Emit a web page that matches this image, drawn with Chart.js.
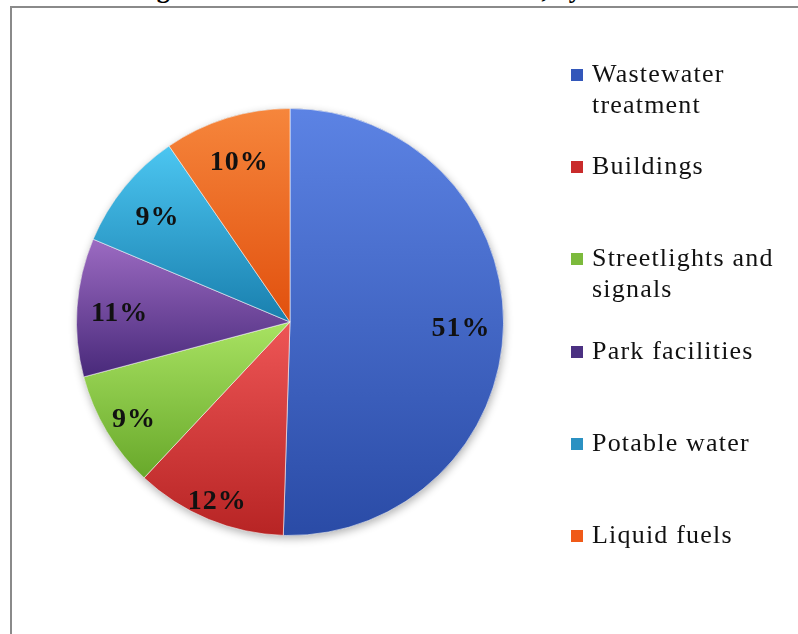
<!DOCTYPE html>
<html>
<head>
<meta charset="utf-8">
<script src="https://cdn.jsdelivr.net/npm/chart.js@4.4.1/dist/chart.umd.min.js"></script>
<style>
    html, body { margin: 0; padding: 0; background: #fff; overflow: hidden; }
    body { width: 798px; height: 634px; position: relative; }
    #frame { position: absolute; left: 10px; top: 6px; width: 1000px; height: 1000px; border: 2px solid #8a8a8a; }
    #title { position: absolute; left: 0; top: -25px; width: 798px; text-align: center; font: bold 26px "Liberation Serif", serif; line-height: 30px; color: #000; }
    #chart { position: absolute; left: 0; top: 0; }
    .item { position: absolute; left: 571px; width: 220px; }
    .sw { position: absolute; left: 0; top: 11px; width: 12px; height: 12px; }
    .txt { display: block; margin-left: 21px; font: 26px "Liberation Serif", serif; line-height: 31px; letter-spacing: 1.2px; color: #111; }
</style>
</head>
<body>
<div id="frame"></div>
<div id="title">Figure 1: Greenhouse Gas Emissions, by Source</div>
<canvas id="chart" width="798" height="634"></canvas>
<div id="legend"></div>
<script>
// Data (share of emissions, %)
const categories = ["Wastewater treatment", "Buildings", "Streetlights and signals", "Park facilities", "Potable water", "Liquid fuels"];
const shares = [50.6, 11.5, 8.9, 10.5, 9.1, 9.6];

// Slice colours (top / bottom of the gradient) and legend swatches
const topColors = ["#5c83e4", "#ee5656", "#a8e262", "#9c6bc2", "#4cc6f1", "#f6863c"];
const bottomColors = ["#2a4ba6", "#b72424", "#68a82a", "#48297a", "#197fae", "#e1500e"];
const swatchColors = ["#3357ba", "#c92b2b", "#7cba3c", "#4b3182", "#2b91c2", "#f05a18"];

// Vertical gradient over the bounding box of one slice
function sliceGradient(chart, i) {
    const area = chart.chartArea;
    if (!area) return topColors[i];
    const cx = (area.left + area.right) / 2;
    const cy = (area.top + area.bottom) / 2;
    const r = Math.min(area.right - area.left, area.bottom - area.top) / 2;
    const total = shares.reduce((a, b) => a + b, 0);
    const before = shares.slice(0, i).reduce((a, b) => a + b, 0);
    const start = -Math.PI / 2 + 2 * Math.PI * before / total;
    const end = start + 2 * Math.PI * shares[i] / total;
    const ys = [cy, cy + Math.sin(start) * r, cy + Math.sin(end) * r];
    [-Math.PI / 2, Math.PI / 2, 3 * Math.PI / 2].forEach(t => {
        if (t > start && t < end) ys.push(cy + Math.sin(t) * r);
    });
    const g = chart.ctx.createLinearGradient(0, Math.min(...ys), 0, Math.max(...ys));
    g.addColorStop(0, topColors[i]);
    g.addColorStop(1, bottomColors[i]);
    return g;
}

// Soft shadow under the pie and the percent labels
const pieExtras = {
    id: "pieExtras",
    beforeDatasetsDraw(chart) {
        const arc = chart.getDatasetMeta(0).data[0];
        const ctx = chart.ctx;
        ctx.save();
        ctx.shadowColor = "rgba(0,0,0,0.3)";
        ctx.shadowBlur = 8;
        ctx.shadowOffsetX = 1;
        ctx.shadowOffsetY = 3;
        ctx.beginPath();
        ctx.arc(arc.x, arc.y, arc.outerRadius, 0, 2 * Math.PI);
        ctx.fillStyle = "#999";
        ctx.fill();
        ctx.restore();
    },
    afterDatasetsDraw(chart) {
        const ctx = chart.ctx;
        ctx.save();
        ctx.font = 'bold 28px "Liberation Serif", serif';
        ctx.letterSpacing = "1px";
        ctx.fillStyle = "#111";
        ctx.textAlign = "center";
        ctx.textBaseline = "middle";
        chart.getDatasetMeta(0).data.forEach((arc, i) => {
            const mid = (arc.startAngle + arc.endAngle) / 2;
            // labels in the lower half sit further out, like the original's best fit
            const d = arc.outerRadius * (0.8 + 0.1 * Math.max(0, Math.sin(mid)));
            ctx.fillText(Math.round(shares[i]) + "%", arc.x + Math.cos(mid) * d, arc.y + Math.sin(mid) * d + 4);
        });
        ctx.restore();
    }
};

const chart = new Chart(document.getElementById("chart"), {
    type: "pie",
    data: {
        labels: categories,
        datasets: [{
            data: shares,
            backgroundColor: c => c.type === "data" ? sliceGradient(c.chart, c.dataIndex) : "#fff",
            borderColor: "rgba(255,255,255,0.55)",
            borderWidth: 1
        }]
    },
    options: {
        responsive: false,
        animation: false,
        layout: { padding: { left: 76, right: 294, top: 108, bottom: 98 } },
        plugins: {
            legend: { display: false },
            tooltip: { enabled: false }
        }
    },
    plugins: [pieExtras]
});

// Legend on the right, evenly spaced like the original
const legend = document.getElementById("legend");
categories.forEach((name, i) => {
    const item = document.createElement("div");
    item.className = "item";
    item.style.top = (58 + i * 92.2) + "px";
    item.innerHTML = `<span class="sw" style="background:${swatchColors[i]}"></span><span class="txt">${name}</span>`;
    legend.appendChild(item);
});
</script>
</body>
</html>
